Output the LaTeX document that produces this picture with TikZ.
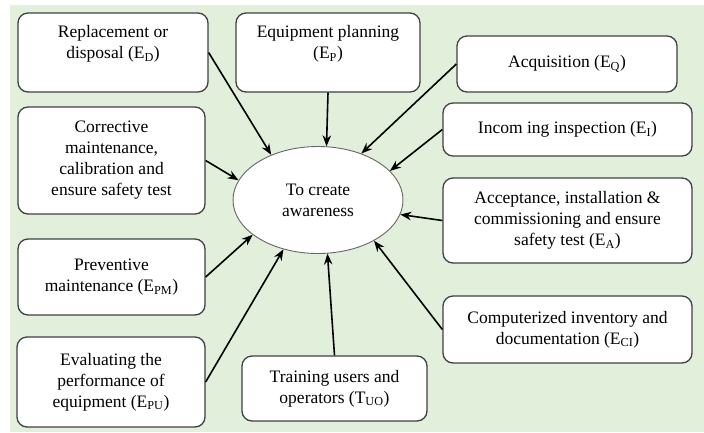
\documentclass[tikz,border=0pt]{standalone}
\usepackage{fontspec}
\setmainfont{Liberation Serif}
\usetikzlibrary{arrows.meta,shapes.geometric}

\definecolor{bggreen}{HTML}{E2EFDA}
\definecolor{boxline}{HTML}{404040}

\begin{document}
\begin{tikzpicture}[x=1pt,y=-1pt,
    every node/.style={font=\fontsize{17.5}{21}\selectfont},
    box/.style={draw=boxline, line width=1.3pt, rounded corners=10pt, fill=white, align=center, inner sep=2pt},
    goal/.style={ellipse, draw=black!60, line width=0.9pt, fill=white, align=center, inner sep=0pt},
    feed/.style={-{Stealth[length=11pt,width=8.5pt]}, line width=1.6pt}]

    \useasboundingbox (0,0) rectangle (704,432);
    \fill[bggreen] (10,5) rectangle (704,432);

    % the centre
    \node[goal, minimum width=170pt, minimum height=107pt] (aw) at (318,200) {To create\\awareness};

    % left column
    \node[box, minimum width=190pt, minimum height=79pt, text depth=21pt] (ed) at (113,52.5) {Replacement or\\disposal (E\textsubscript{D})};
    \node[box, minimum width=187pt, minimum height=107pt] (cm) at (111.5,160.5) {Corrective\\maintenance,\\calibration and\\ensure safety test};
    \node[box, minimum width=187pt, minimum height=76pt] (epm) at (111.5,277) {Preventive\\maintenance (E\textsubscript{PM})};
    \node[box, minimum width=188pt, minimum height=90pt] (epu) at (111,382) {Evaluating the\\performance of\\equipment (E\textsubscript{PU})};

    % top and bottom
    \node[box, minimum width=184pt, minimum height=79pt, text depth=21pt] (ep) at (328,52.5) {Equipment planning\\(E\textsubscript{P})};
    \node[box, minimum width=185pt, minimum height=65pt] (tuo) at (334.5,388.5) {Training users and\\operators (T\textsubscript{UO})};

    % right column
    \node[box, minimum width=220pt, minimum height=56pt] (eq) at (567,64) {Acquisition (E\textsubscript{Q})};
    \node[box, minimum width=249pt, minimum height=53pt] (ei) at (567.5,129.5) {Incom ing inspection (E\textsubscript{I})};
    \node[box, minimum width=249pt, minimum height=85pt] (ea) at (567.5,220.5) {Acceptance, installation \&\\commissioning and ensure\\safety test (E\textsubscript{A})};
    \node[box, minimum width=249pt, minimum height=67pt] (eci) at (567.5,329.5) {Computerized inventory and\\documentation (E\textsubscript{CI})};

    % arrows into the centre
    \draw[feed] (ed.east) -- (aw.136);
    \draw[feed] (ep.south) -- (aw.81);
    \draw[feed] (eq.west) -- (aw.47);
    \draw[feed] (ei.west) -- (aw.22);
    \draw[feed] (ea.west) -- (aw.-10);
    \draw[feed] (eci.west) -- (aw.-36);
    \draw[feed] (tuo.north) -- (aw.-80);
    \draw[feed] (epu.east) -- (aw.-125);
    \draw[feed] (epm.east) -- (aw.-152);
    \draw[feed] (cm.east) -- (aw.166);
\end{tikzpicture}
\end{document}
